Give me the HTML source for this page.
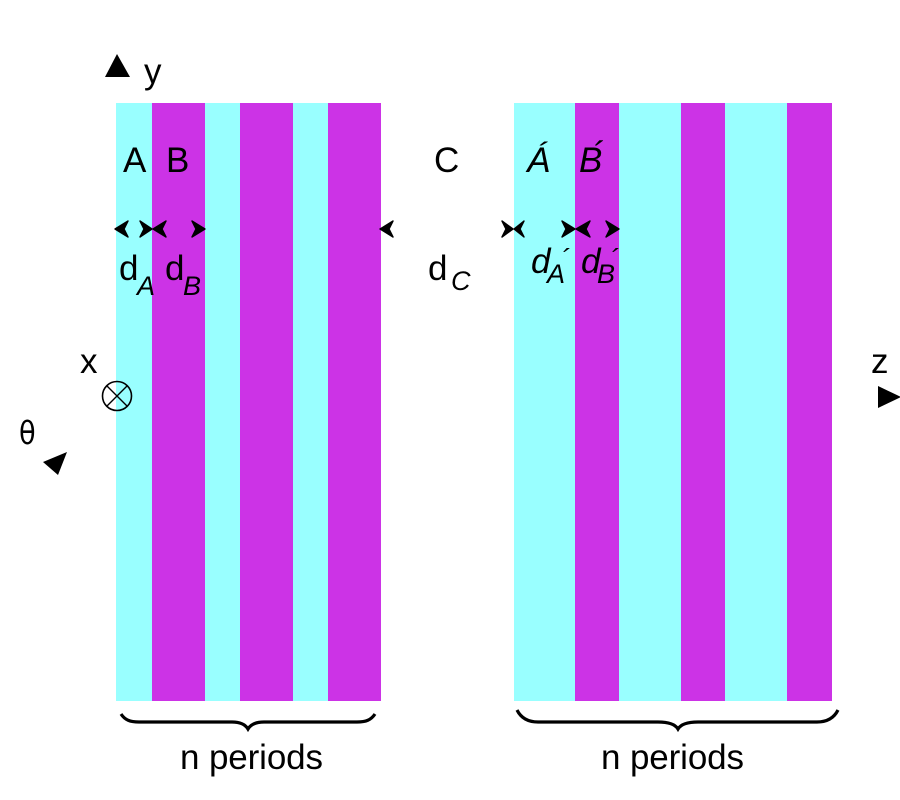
<!DOCTYPE html>
<html><head><meta charset="utf-8"><style>
html,body{margin:0;padding:0;background:#fff}
svg{display:block}
text{font-family:"Liberation Sans",sans-serif;fill:#000;font-size:35px}
.i{font-style:italic}
.s{font-size:27px}
</style></head><body>
<svg width="900" height="800" viewBox="0 0 900 800" xmlns="http://www.w3.org/2000/svg">
<g fill="#99ffff">
<rect x="116" y="103" width="36" height="598"/>
<rect x="205" y="103" width="35" height="598"/>
<rect x="293" y="103" width="35" height="598"/>
<rect x="514" y="103" width="61" height="598"/>
<rect x="619" y="103" width="62" height="598"/>
<rect x="725" y="103" width="62" height="598"/>
</g>
<g fill="#cc33e6">
<rect x="152" y="103" width="53" height="598"/>
<rect x="240" y="103" width="53" height="598"/>
<rect x="328" y="103" width="53" height="598"/>
<rect x="575" y="103" width="44" height="598"/>
<rect x="681" y="103" width="44" height="598"/>
<rect x="787" y="103" width="45" height="598"/>
</g>
<g fill="#000">
<polygon points="117,54 105,77 130,77"/>
<polygon points="67,452 43,462 58,475"/>
<polygon points="878,386 901,397 878,408"/>
</g>
<g fill="#000" stroke="#000" stroke-width="1.4" stroke-linejoin="round">
<path d="M115,229 L128,221 L124,229 L128,237Z"/>
<path d="M152,229 L140,221 L144,229 L140,237Z"/>
<path d="M153,229 L166,221 L162,229 L166,237Z"/>
<path d="M205,229 L192,221 L196,229 L192,237Z"/>
<path d="M380,229 L393,221 L389,229 L393,237Z"/>
<path d="M513,229 L502,221 L506,229 L502,237Z"/>
<path d="M514,229 L524,221 L520,229 L524,237Z"/>
<path d="M575,229 L562,221 L566,229 L562,237Z"/>
<path d="M576,229 L590,221 L586,229 L590,237Z"/>
<path d="M619,229 L606,221 L610,229 L606,237Z"/>
</g>
<circle cx="117" cy="396" r="14.5" fill="none" stroke="#000" stroke-width="1.6"/>
<path d="M107,386 L127,406 M127,386 L107,406" stroke="#000" stroke-width="1.4" fill="none"/>
<g fill="none" stroke="#000" stroke-width="3.2">
<path d="M121,714 C125,720 130,722 139,722 L232,722 C240,722 245,724 248,729 C251,724 256,722 264,722 L357,722 C366,722 371,720 375,714"/>
<path d="M517,710 C521,718 528,722 538,722 L658,722 C668,722 675,724 678,729 C681,724 688,722 698,722 L817,722 C827,722 834,718 838,710"/>
</g>
<text x="144" y="83">y</text>
<text x="123" y="172">A</text>
<text x="166" y="172">B</text>
<text x="434" y="172">C</text>
<text class="i" x="527" y="172">Á</text>
<text class="i" x="579" y="172">B</text>
<text class="i" x="592" y="172" dy="-6">´</text>
<text x="119" y="280">d</text><text class="i s" x="137" y="295">A</text>
<text x="165" y="280">d</text><text class="i s" x="183" y="295">B</text>
<text x="428" y="280">d</text><text class="i s" x="451" y="290">C</text>
<text class="i" x="531" y="273">d</text><text class="i s" x="547" y="283">A</text><text class="i s" x="561" y="268">´</text>
<text class="i" x="581" y="273">d</text><text class="i s" x="597" y="283">B</text><text class="i s" x="610" y="268">´</text>
<text x="80" y="373">x</text>
<text x="871" y="373">z</text>
<text transform="translate(19,444) scale(.85,1)" style="font-size:32px;font-family:'DejaVu Sans',sans-serif">θ</text>
<text x="180" y="769" textLength="143" lengthAdjust="spacing">n periods</text>
<text x="601" y="769" textLength="143" lengthAdjust="spacing">n periods</text>
</svg>
</body></html>
